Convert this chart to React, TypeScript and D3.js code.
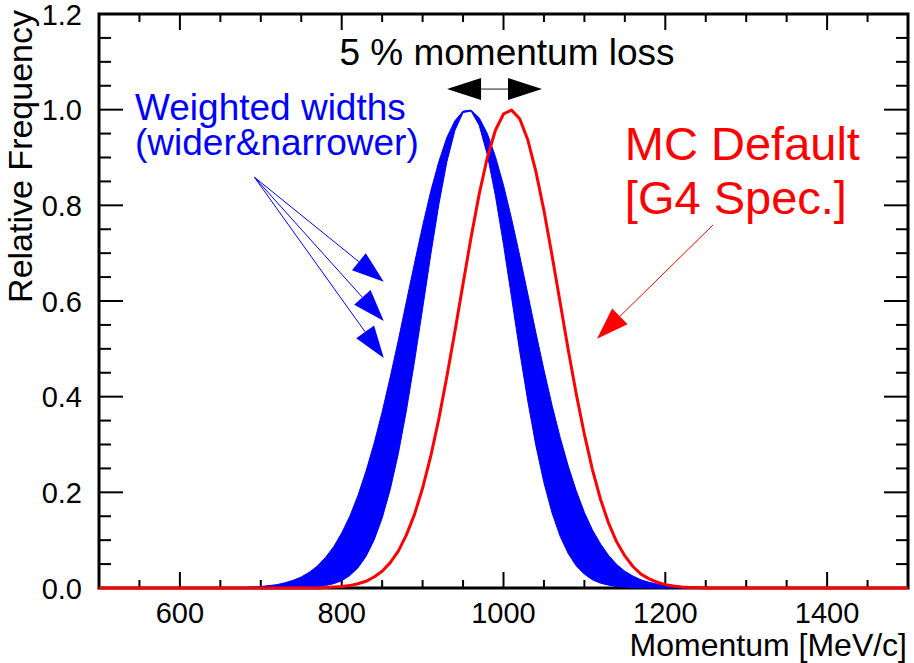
import React from "react";
import * as d3 from "d3";

// ---- data ----
const momentum = [
  500, 650, 660, 670, 680, 690, 700, 710, 720, 730, 740, 750, 760, 770, 780, 790,
  800, 810, 820, 830, 840, 850, 860, 870, 880, 890, 900, 910, 920, 930, 940, 950,
  960, 970, 980, 990, 1000, 1010, 1020, 1030, 1040, 1050, 1060, 1070, 1080, 1090,
  1100, 1110, 1120, 1130, 1140, 1150, 1160, 1170, 1180, 1190, 1200, 1210, 1220,
  1230, 1240, 1250, 1260, 1270, 1280, 1290, 1300, 1500,
];

const mcDefault = [
  0, 0, 0, 0, 0, 0, 0, 0, 0, 0, 0, 0, 0, 0, 0.001, 0.002,
  0.003, 0.005, 0.009, 0.014, 0.023, 0.035, 0.053, 0.077, 0.111, 0.154, 0.209, 0.275, 0.353, 0.442, 0.537, 0.636,
  0.734, 0.824, 0.9, 0.957, 0.991, 0.999, 0.981, 0.937, 0.871, 0.789, 0.695, 0.597, 0.498, 0.405,
  0.321, 0.247, 0.185, 0.135, 0.096, 0.067, 0.045, 0.029, 0.019, 0.012, 0.007, 0.004, 0.002,
  0.001, 0.001, 0, 0, 0, 0, 0, 0, 0,
];

const narrowerWidth = [
  0, 0, 0, 0, 0, 0, 0, 0, 0, 0, 0, 0.001, 0.001, 0.003, 0.005, 0.009,
  0.015, 0.026, 0.042, 0.066, 0.1, 0.146, 0.206, 0.281, 0.371, 0.474, 0.584, 0.696, 0.801, 0.891, 0.957, 0.994,
  0.997, 0.967, 0.906, 0.82, 0.718, 0.607, 0.495, 0.391, 0.298, 0.22, 0.157, 0.108, 0.072, 0.046,
  0.029, 0.017, 0.01, 0.006, 0.003, 0.002, 0.001, 0, 0, 0, 0, 0, 0,
  0, 0, 0, 0, 0, 0, 0, 0, 0,
];

const widerWidth = [
  0, 0, 0, 0.001, 0.001, 0.002, 0.003, 0.005, 0.007, 0.011, 0.016, 0.023, 0.033, 0.046, 0.064, 0.086,
  0.115, 0.15, 0.193, 0.244, 0.302, 0.368, 0.441, 0.518, 0.599, 0.679, 0.757, 0.829, 0.891, 0.942, 0.977, 0.997,
  0.999, 0.983, 0.95, 0.902, 0.842, 0.772, 0.695, 0.615, 0.534, 0.456, 0.382, 0.315, 0.255, 0.203,
  0.158, 0.121, 0.092, 0.068, 0.049, 0.035, 0.025, 0.017, 0.012, 0.008, 0.005, 0.003, 0.002,
  0.001, 0.001, 0, 0, 0, 0, 0, 0, 0,
];

const xMajorTicks = [600, 800, 1000, 1200, 1400];
const yMajorTicks = [0, 0.2, 0.4, 0.6, 0.8, 1.0, 1.2];
const xTitle = "Momentum [MeV/c]";
const yTitle = "Relative Frequency";

const FONT = "'Liberation Sans', Arial, Helvetica, sans-serif";

function arrowHead(x1: number, y1: number, x2: number, y2: number, len = 32, hw = 11) {
  const dx = x2 - x1, dy = y2 - y1;
  const d = Math.hypot(dx, dy);
  const ux = dx / d, uy = dy / d;
  const bx = x2 - ux * len, by = y2 - uy * len;
  const nx = -uy, ny = ux;
  return {
    base: [bx, by],
    points: `${x2},${y2} ${bx + nx * hw},${by + ny * hw} ${bx - nx * hw},${by - ny * hw}`,
  };
}

export default function App() {
  const W = 914, H = 663;
  const x = d3.scaleLinear().domain([500, 1500]).range([99, 908]);
  const y = d3.scaleLinear().domain([0, 1.2]).range([588, 14]);
  const [x0, x1] = x.range();
  const [yb, yt] = y.range();

  const idx = momentum.map((_, i) => i);
  const bandPath = d3
    .area<number>()
    .x((i) => x(momentum[i]))
    .y0((i) => y(Math.min(narrowerWidth[i], widerWidth[i])))
    .y1((i) => y(Math.max(narrowerWidth[i], widerWidth[i])))(idx) as string;
  const redPath = d3
    .line<number>()
    .x((i) => x(momentum[i]))
    .y((i) => y(mcDefault[i]))(idx) as string;

  const xMinor = d3.range(500, 1501, 50).filter((v) => !xMajorTicks.includes(v));
  const yMinor = d3.range(0, 1.2001, 0.05).filter((v) => Math.abs(Math.round(v / 0.2) * 0.2 - v) > 1e-6);
  const fmt = d3.format(".1f");

  // blue annotation arrows
  const bStart = [x(692), y(0.859)];
  const bEnds = [0.64, 0.558, 0.481].map((v) => [x(852), y(v)]);
  // red annotation arrow
  const rStart = [x(1259), y(0.759)];
  const rEnd = [x(1115.6), y(0.521)];
  // double arrow (5 % momentum loss)
  const dy = y(1.043);
  const dl = x(930.2), dr = x(1047.6);

  return (
    <svg
      width={W}
      height={H}
      style={{ position: "absolute", left: 0, top: 0, background: "#fff" }}
      fontFamily={FONT}
    >
      <rect x={0} y={0} width={W} height={H} fill="#fff" />
      {/* ticks */}
      <g stroke="#000" strokeWidth={2}>
        {xMajorTicks.map((v) => (
          <g key={"xM" + v}>
            <line x1={x(v)} x2={x(v)} y1={yb} y2={yb - 16} />
            <line x1={x(v)} x2={x(v)} y1={yt} y2={yt + 16} />
          </g>
        ))}
        {xMinor.map((v) => (
          <g key={"xm" + v}>
            <line x1={x(v)} x2={x(v)} y1={yb} y2={yb - 8} />
            <line x1={x(v)} x2={x(v)} y1={yt} y2={yt + 8} />
          </g>
        ))}
        {yMajorTicks.map((v) => (
          <g key={"yM" + v}>
            <line x1={x0} x2={x0 + 24} y1={y(v)} y2={y(v)} />
            <line x1={x1} x2={x1 - 24} y1={y(v)} y2={y(v)} />
          </g>
        ))}
        {yMinor.map((v) => (
          <g key={"ym" + v}>
            <line x1={x0} x2={x0 + 12} y1={y(v)} y2={y(v)} />
            <line x1={x1} x2={x1 - 12} y1={y(v)} y2={y(v)} />
          </g>
        ))}
      </g>
      <rect x={x0} y={yt} width={x1 - x0} height={yb - yt} fill="none" stroke="#000" strokeWidth={3} />

      {/* data */}
      <path d={bandPath} fill="#0000ff" stroke="#0000ff" strokeWidth={1} />
      <path d={redPath} fill="none" stroke="#ff0000" strokeWidth={3} strokeLinejoin="round" />

      {/* tick labels */}
      <g fontSize={29} fill="#000">
        {xMajorTicks.map((v) => (
          <text key={"xl" + v} x={x(v)} y={623} textAnchor="middle">
            {v}
          </text>
        ))}
        {yMajorTicks.map((v) => (
          <text key={"yl" + v} x={82} y={y(v) + 10.5} textAnchor="end">
            {fmt(v)}
          </text>
        ))}
      </g>
      <text x={907} y={656} textAnchor="end" fontSize={32} fill="#000">
        {xTitle}
      </text>
      <text transform="translate(32,10) rotate(-90)" textAnchor="end" fontSize={34} fill="#000">
        {yTitle}
      </text>

      {/* annotations */}
      <text x={x(1004.3)} y={65} textAnchor="middle" fontSize={37} fill="#000">
        5 % momentum loss
      </text>
      {(() => {
        const L = arrowHead(dr, dy, dl, dy, 34, 11);
        const R = arrowHead(dl, dy, dr, dy, 34, 11);
        return (
          <g>
            <line x1={L.base[0]} x2={R.base[0]} y1={dy} y2={dy} stroke="#666" strokeWidth={1.5} />
            <polygon points={L.points} fill="#000" />
            <polygon points={R.points} fill="#000" />
          </g>
        );
      })()}

      <g fill="#0000ff" fontSize={37}>
        <text x={x(544.5)} y={y(0.978)}>Weighted widths</text>
        <text x={x(544.5)} y={y(0.905)}>(wider&amp;narrower)</text>
      </g>
      {bEnds.map((e, i) => {
        const h = arrowHead(bStart[0], bStart[1], e[0], e[1]);
        return (
          <g key={"ba" + i}>
            <line x1={bStart[0]} y1={bStart[1]} x2={h.base[0]} y2={h.base[1]} stroke="#0000ff" strokeWidth={1} />
            <polygon points={h.points} fill="#0000ff" />
          </g>
        );
      })}

      <g fill="#ff0000" fontSize={47}>
        <text x={x(1150)} y={y(0.895)}>MC Default</text>
        <text x={x(1150)} y={y(0.782)}>[G4 Spec.]</text>
      </g>
      {(() => {
        const h = arrowHead(rStart[0], rStart[1], rEnd[0], rEnd[1]);
        return (
          <g>
            <line x1={rStart[0]} y1={rStart[1]} x2={h.base[0]} y2={h.base[1]} stroke="#ff0000" strokeWidth={1} />
            <polygon points={h.points} fill="#ff0000" />
          </g>
        );
      })()}
    </svg>
  );
}
